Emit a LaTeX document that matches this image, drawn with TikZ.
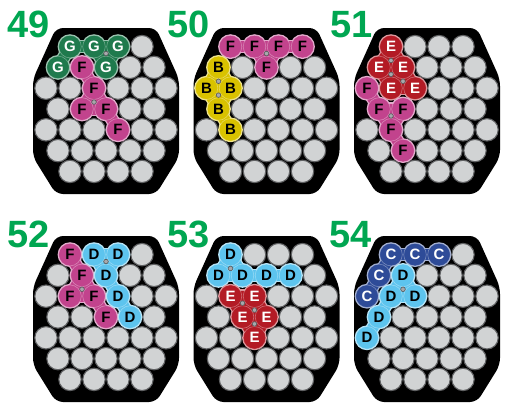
\documentclass[tikz,border=0pt]{standalone}
\usepackage{fontspec}
\setmainfont{Liberation Sans}
\definecolor{cellgray}{HTML}{D1D3D4}
\definecolor{celledge}{HTML}{5F6062}
\definecolor{numgreen}{HTML}{00A651}
\definecolor{pG}{HTML}{1F7A4D}
\definecolor{pF}{HTML}{C2438D}
\definecolor{pE}{HTML}{B31B25}
\definecolor{pB}{HTML}{D9C200}
\definecolor{pD}{HTML}{5DC4EE}
\definecolor{pC}{HTML}{2E4B98}
\definecolor{dotgray}{HTML}{A7A9AC}
\definecolor{dotedge}{HTML}{58595B}
\tikzset{
  boardfill/.style={fill=black, rounded corners=7pt},
  graycell/.style={circle, minimum size=22.4pt, inner sep=0pt, fill=cellgray, draw=celledge, line width=1.1pt},
  piececell/.style={circle, minimum size=22.6pt, inner sep=0pt, draw=white, draw opacity=0.35, line width=0.6pt,
    font=\bfseries\fontsize{15}{15}\selectfont},
  dotmark/.style={fill=dotgray, draw=dotedge, line width=0.6pt},
  numlabel/.style={anchor=base west, inner sep=0pt, text=numgreen, font=\bfseries\fontsize{38}{38}\selectfont}
}
\newcommand\drawboard[3]{%
  \fill[boardfill, shift={(#2,#3)}] (-50,-81) -- (50,-81) -- (73,-30) -- (73,48) -- (50,85) -- (-50,85) -- (-73,48) -- (-73,-30) -- cycle;
  \foreach \r/\n in {1/4,2/5,3/6,4/5,5/6,6/5,7/4}{
    \foreach \q in {1,...,\n}{
      \pgfmathsetmacro\xx{#2+(\q-(\n+1)/2)*24}
      \pgfmathsetmacro\yy{#3+(\r-4)*20.8}
      \node[graycell] (#1-\r-\q) at (\xx,\yy) {};
    }
  }
}
\newcommand\drawpiece[5]{%
  \foreach \a/\b in {#5} \draw[line width=13.6pt, #1!45!white] (\a.center) -- (\b.center);
  \foreach \a in {#4} \fill[#1!45!white] (\a) circle[radius=12.4pt];
  \foreach \a/\b in {#5} \draw[line width=11pt, #1] (\a.center) -- (\b.center);
  \foreach \a in {#4} \node[piececell, fill=#1, text=#2] (\a-p) at (\a) {#3};
}
\newcommand\drawdots[1]{%
  \foreach \a/\b/\u in {#1} \filldraw[dotmark] (barycentric cs:\a=1,\b=1,\u=1) circle[radius=2.3pt];
}
\begin{document}
\begin{tikzpicture}[x=1pt,y=-1pt]
\useasboundingbox (0,0) rectangle (505,413);
% boards
\drawboard{A}{106}{109}
\drawboard{B}{266.5}{109}
\drawboard{C}{427}{109}
\drawboard{D}{106}{317}
\drawboard{E}{266.5}{317}
\drawboard{F}{427}{317}
% numbers
\node[numlabel] (n49) at (7,37) {49};
\node[numlabel] (n50) at (167,37) {50};
\node[numlabel] (n51) at (330,37) {51};
\node[numlabel] (n52) at (7,247) {52};
\node[numlabel] (n53) at (167,247) {53};
\node[numlabel] (n54) at (329,247) {54};
% 49
\drawpiece{pG}{white}{G}{A-1-1,A-1-2,A-1-3,A-2-1,A-2-3}{A-1-1/A-1-2,A-1-2/A-1-3,A-1-1/A-2-1,A-1-2/A-2-3,A-1-3/A-2-3}
\drawdots{A-1-2/A-1-3/A-2-3}
\drawpiece{pF}{black}{F}{A-2-2,A-3-3,A-4-2,A-4-3,A-5-4}{A-2-2/A-3-3,A-3-3/A-4-2,A-3-3/A-4-3,A-4-2/A-4-3,A-4-3/A-5-4}
\drawdots{A-3-3/A-4-2/A-4-3}
% 50
\drawpiece{pF}{black}{F}{B-1-1,B-1-2,B-1-3,B-1-4,B-2-3}{B-1-1/B-1-2,B-1-2/B-1-3,B-1-3/B-1-4,B-1-2/B-2-3,B-1-3/B-2-3}
\drawdots{B-1-2/B-1-3/B-2-3}
\drawpiece{pB}{black}{B}{B-2-1,B-3-1,B-3-2,B-4-1,B-5-2}{B-2-1/B-3-1,B-2-1/B-3-2,B-3-1/B-3-2,B-3-1/B-4-1,B-3-2/B-4-1,B-4-1/B-5-2}
\drawdots{B-2-1/B-3-1/B-3-2,B-3-1/B-3-2/B-4-1}
% 51
\drawpiece{pE}{white}{E}{C-1-1,C-2-1,C-2-2,C-3-2,C-3-3}{C-1-1/C-2-1,C-1-1/C-2-2,C-2-1/C-2-2,C-2-1/C-3-2,C-2-2/C-3-2,C-2-2/C-3-3,C-3-2/C-3-3}
\drawdots{C-1-1/C-2-1/C-2-2,C-2-1/C-2-2/C-3-2,C-2-2/C-3-2/C-3-3}
\drawpiece{pF}{black}{F}{C-3-1,C-4-1,C-4-2,C-5-2,C-6-2}{C-3-1/C-4-1,C-4-1/C-4-2,C-4-1/C-5-2,C-4-2/C-5-2,C-5-2/C-6-2}
\drawdots{C-4-1/C-4-2/C-5-2}
% 52
\drawpiece{pF}{black}{F}{D-1-1,D-2-2,D-3-2,D-3-3,D-4-3}{D-1-1/D-2-2,D-2-2/D-3-2,D-2-2/D-3-3,D-3-2/D-3-3,D-3-3/D-4-3}
\drawdots{D-2-2/D-3-2/D-3-3}
\drawpiece{pD}{black}{D}{D-1-2,D-1-3,D-2-3,D-3-4,D-4-4}{D-1-2/D-1-3,D-1-2/D-2-3,D-1-3/D-2-3,D-2-3/D-3-4,D-3-4/D-4-4}
\drawdots{D-1-2/D-1-3/D-2-3}
% 53
\drawpiece{pD}{black}{D}{E-1-1,E-2-1,E-2-2,E-2-3,E-2-4}{E-1-1/E-2-1,E-1-1/E-2-2,E-2-1/E-2-2,E-2-2/E-2-3,E-2-3/E-2-4}
\drawdots{E-1-1/E-2-1/E-2-2}
\drawpiece{pE}{white}{E}{E-3-2,E-3-3,E-4-2,E-4-3,E-5-3}{E-3-2/E-3-3,E-3-2/E-4-2,E-3-3/E-4-2,E-3-3/E-4-3,E-4-2/E-4-3,E-4-2/E-5-3,E-4-3/E-5-3}
\drawdots{E-3-2/E-3-3/E-4-2,E-3-3/E-4-2/E-4-3,E-4-2/E-4-3/E-5-3}
% 54
\drawpiece{pC}{white}{C}{F-1-1,F-1-2,F-1-3,F-2-1,F-3-1}{F-1-1/F-1-2,F-1-2/F-1-3,F-1-1/F-2-1,F-2-1/F-3-1}
\drawpiece{pD}{black}{D}{F-2-2,F-3-2,F-3-3,F-4-1,F-5-1}{F-2-2/F-3-2,F-2-2/F-3-3,F-3-2/F-3-3,F-3-2/F-4-1,F-4-1/F-5-1}
\drawdots{F-2-2/F-3-2/F-3-3}
\end{tikzpicture}
\end{document}
